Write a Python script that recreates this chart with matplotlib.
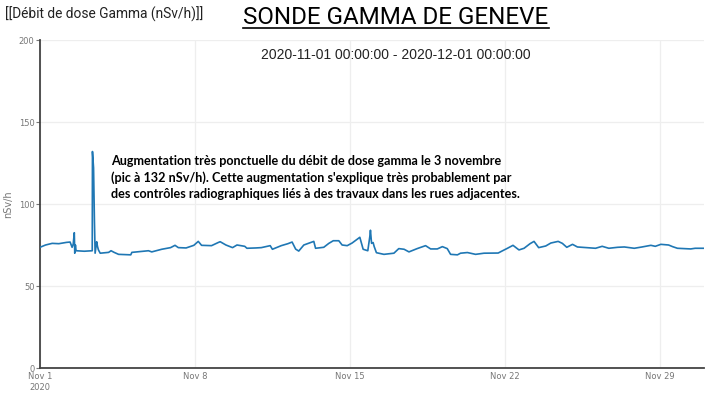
import pandas as pd
import matplotlib
matplotlib.use('Agg')
from matplotlib import pyplot as plt

# jours depuis le 1er novembre 2020 et débit de dose (nSv/h)
days = [0.00, 0.25, 0.55, 0.85, 1.20, 1.36, 1.45, 1.50, 1.55, 1.57, 1.60, 1.63,
        2.00, 2.36, 2.37, 2.42, 2.46, 2.49, 2.56, 2.60, 2.64, 2.72, 3.10, 3.21,
        3.35, 3.55, 4.10, 4.15, 4.90, 5.05, 5.50, 5.90, 6.10, 6.25, 6.60, 6.95,
        7.15, 7.30, 7.75, 8.05, 8.14, 8.40, 8.70, 8.90, 9.25, 9.35, 9.75, 10.00,
        10.40, 10.50, 10.90, 11.20, 11.39, 11.55, 11.69, 11.92, 12.37, 12.45, 12.82,
        13.05, 13.25, 13.50, 13.65, 13.88, 14.10, 14.45, 14.60, 14.81, 14.90, 14.93,
        14.98, 15.05, 15.10, 15.20, 15.54, 15.99, 16.21, 16.45, 16.67, 17.04, 17.42,
        17.65, 17.95, 18.18, 18.40, 18.55, 18.86, 19.00, 19.31, 19.68, 20.06, 20.70,
        20.90, 21.12, 21.37, 21.64, 21.87, 22.14, 22.32, 22.53, 22.85, 23.08, 23.41,
        23.60, 23.80, 24.06, 24.28, 25.10, 25.40, 25.70, 26.10, 26.40, 26.85, 27.20,
        27.60, 27.80, 28.05, 28.40, 28.58, 28.80, 29.40, 29.60, 30.00]
dose = [73.6, 75.0, 76.0, 75.8, 76.6, 76.8, 73.6, 75.5, 82.5, 70.0, 75.0, 71.5,
        71.2, 71.5, 132.0, 122.0, 89.0, 70.0, 77.0, 74.0, 72.0, 70.0, 70.5, 71.5,
        70.5, 69.3, 69.0, 70.5, 71.5, 70.8, 72.4, 73.4, 74.8, 73.4, 73.2, 74.8,
        77.2, 74.8, 74.6, 76.5, 77.0, 75.0, 73.4, 75.0, 74.2, 73.0, 73.2, 73.4,
        74.6, 72.4, 74.6, 75.8, 76.8, 72.5, 71.3, 75.0, 77.2, 73.0, 73.6,
        76.0, 77.6, 77.6, 75.0, 74.6, 76.2, 79.7, 72.4, 71.5, 80.0, 84.0,
        76.0, 76.5, 74.0, 70.3, 69.3, 70.0, 72.8, 72.4, 70.8, 72.8, 74.6,
        72.6, 72.6, 74.0, 72.8, 69.3, 69.0, 70.0, 70.4, 69.3, 70.0, 70.1,
        71.5, 73.0, 74.8, 72.0, 73.0, 75.8, 77.2, 73.4, 74.4, 76.2, 77.2,
        76.0, 73.6, 75.4, 73.8, 73.0, 74.2, 73.0, 73.6, 73.8, 73.0, 73.8,
        74.8, 74.2, 75.4, 75.0, 74.0, 73.0, 72.6, 73.0, 73.0]

start = pd.Timestamp('2020-11-01')
end = pd.Timestamp('2020-12-01')
times = [start + pd.Timedelta(days=d) for d in days]

xtick_dates = ['2020-11-01', '2020-11-08', '2020-11-15', '2020-11-22', '2020-11-29']
xtick_labels = ['Nov 1\n2020', 'Nov 8', 'Nov 15', 'Nov 22', 'Nov 29']
yticks = [0, 50, 100, 150, 200]

note = ("Augmentation très ponctuelle du débit de dose gamma le 3 novembre\n"
        "(pic à 132 nSv/h). Cette augmentation s'explique très probablement par\n"
        "des contrôles radiographiques liés à des travaux dans les rues adjacentes.")

fig = plt.figure(figsize=(7.11, 3.94), dpi=100)
ax = fig.add_axes([40/711, 26/394, 664/711, 328/394])

ax.plot(times, dose, color='#1f77b4', lw=1.2, zorder=3)

ax.set_xlim(start, end)
ax.set_ylim(0, 200)
ax.set_xticks([pd.Timestamp(d) for d in xtick_dates])
ax.set_xticklabels(xtick_labels)
ax.set_yticks(yticks)
ax.tick_params(axis='both', labelsize=6, colors='#777777', length=3, width=0.8,
               pad=1)
ax.tick_params(axis='x', length=0, pad=3)
ax.grid(color='#eeeeee', lw=0.9, zorder=0)
for s in ['top', 'right']:
	ax.spines[s].set_visible(False)
for s in ['left', 'bottom']:
	ax.spines[s].set_color('#444444')
	ax.spines[s].set_linewidth(1.3)
ax.set_ylabel('nSv/h', fontsize=7, color='#777777')
ax.yaxis.set_label_coords(-27/664, 0.5)

fig.text(5/711, 1 - 14/394, '[[Débit de dose Gamma (nSv/h)]]', fontsize=9.9,
         family='Roboto', va='center', ha='left', color='#222222')
t = fig.text(396/711, 1 - 18/394, 'SONDE GAMMA DE GENEVE', fontsize=17.4,
             family='Roboto', va='center', ha='center', color='black')
fig.canvas.draw()
bb = t.get_window_extent()
fig.add_artist(plt.Line2D([bb.x0 / 711, bb.x1 / 711], [1 - 28/394, 1 - 28/394],
                          color='black', lw=1.2))
fig.text(396/711, 1 - 55/394, '2020-11-01 00:00:00 - 2020-12-01 00:00:00',
         fontsize=10, family='Liberation Sans', va='center', ha='center',
         color='#222222')

ax.text(pd.Timestamp('2020-11-04 05:30'), 130, note, fontsize=9.1,
        family='Lato', fontweight='bold', va='top', ha='left',
        linespacing=1.4, color='black', zorder=4)

fig.savefig('out.png', dpi=100)
